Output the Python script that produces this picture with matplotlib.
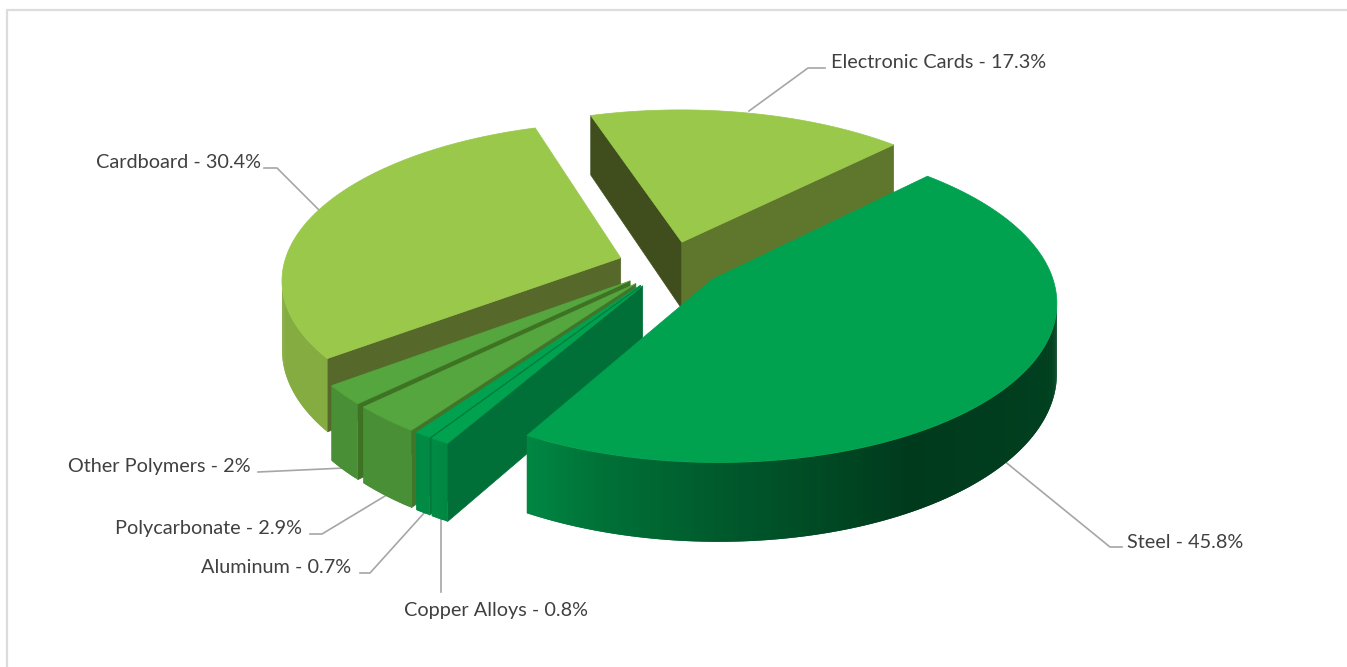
import numpy as np
import matplotlib
matplotlib.use("Agg")
import matplotlib.pyplot as plt

plt.rcParams['font.family'] = ['Lato', 'DejaVu Sans']

# clockwise from the Steel slice
names = ["Steel", "Copper Alloys", "Aluminum", "Polycarbonate", "Other Polymers", "Cardboard", "Electronic Cards"]
shares = [45.8, 0.8, 0.7, 2.9, 2, 30.4, 17.3]

C_TOP = ["#00A14F", "#00A14F", "#00A14F", "#55A63F", "#55A63F", "#99C84A", "#99C84A"]
C_START = ["#006F38", "#006F38", "#00793A", "#41752A", "#3F7324", "#56692A", "#3F4E1C"]
C_END = ["#006F38", "#006F38", "#00793A", "#41752A", "#3F7324", "#56692A", "#5E772D"]
DRAW_ORDER = [6, 5, 4, 3, 2, 1, 0]

# pie geometry, in pixels of the output
START = 44.6
CX, CY = 670, 265
R = 337
EXPLODE = 52
TILT = 0.46
PERSP = 0.13
DEPTH = 68
C_TEXT = "#404040"
C_LEAD = "#A6A6A6"
C_FRAME = "#DCDCDC"

# text anchor and leader path for each label
label_pos = [(1127, 542.5), (404, 610.5), (201, 567.5), (115, 528.5), (68, 466.5), (96, 162), (831, 62)]
leader_pos = [
    [(1003, 460), (1110, 547), (1122, 547)],
    [(441, 518), (441, 592)],
    [(425, 512), (370, 573), (360, 573)],
    [(390, 493), (322, 534), (310, 534)],
    [(345, 468), (258, 472)],
    [(319, 210), (277, 168), (264, 168)],
    [(749, 111), (808, 68), (825, 68)],
]


def project(gx, gy, gz=0.0):
    s = 1 / (1 + PERSP * gy / R)
    return CX + gx * s, CY - (gy * TILT + gz) * s


def area(pts):
    x = np.array([p[0] for p in pts])
    y = np.array([p[1] for p in pts])
    return np.sum(x * np.roll(y, -1) - np.roll(x, -1) * y)


def shade(theta):
    # lighting of the outer wall against the clockwise angle from north
    return np.interp(theta % 360, [0, 90, 150, 180, 197, 211, 240, 360],
                     [0.8, 0.42, 0.36, 0.56, 0.70, 0.86, 0.86, 0.86])


def scaled(col, f):
    rgb = np.array(matplotlib.colors.to_rgb(col))
    return tuple(rgb * f)


def poly(ax, pts, col, z, lw=0.5):
    xs, ys = zip(*pts)
    ax.fill(xs, ys, facecolor=col, edgecolor=col if lw else 'none', linewidth=lw, zorder=z)


fig = plt.figure(figsize=(13.47, 6.67), dpi=100)
ax = fig.add_axes([0, 0, 1, 1])
ax.set_xlim(0, 1347)
ax.set_ylim(667, 0)
ax.axis('off')

# chart frame, only left and top show in the crop
ax.plot([7, 7, 1347], [667, 10, 10], color=C_FRAME, lw=1.6, zorder=1)

spans = np.array(shares) / sum(shares) * 360
starts = START + np.concatenate([[0], np.cumsum(spans)[:-1]])

z = 2
for i in DRAW_ORDER:
    a, b = starts[i], starts[i] + spans[i]
    mid = np.radians((a + b) / 2)
    ox, oy = EXPLODE * np.sin(mid), EXPLODE * np.cos(mid)

    def pt(theta, gz=0.0, r=R):
        t = np.radians(theta)
        return project(ox + r * np.sin(t), oy + r * np.cos(t), gz)

    apex_t, apex_b = pt(a, 0, 0), pt(a, -DEPTH, 0)

    # radial walls, only those turned to the viewer
    wall = [apex_t, pt(a), pt(a, -DEPTH), apex_b]
    if area(wall) < 0:
        poly(ax, wall, C_START[i], z)
    wall = [apex_t, pt(b), pt(b, -DEPTH), apex_b]
    if area(wall) > 0:
        poly(ax, wall, C_END[i], z)

    # outer wall in strips for the gradient, each one overlaps the next
    arc = np.linspace(a, b, max(int(spans[i] * 2), 3))
    for k in range(len(arc) - 1):
        t0, t1 = arc[k], arc[min(k + 2, len(arc) - 1)]
        strip = [pt(t0), pt(t1), pt(t1, -DEPTH), pt(t0, -DEPTH)]
        if area(strip) < 0:
            poly(ax, strip, scaled(C_TOP[i], shade(arc[k])), z, lw=0)

    # top face
    top = [apex_t] + [pt(t) for t in arc]
    poly(ax, top, C_TOP[i], z + 0.5)
    z += 1

for name, val, (tx, ty), path in zip(names, shares, label_pos, leader_pos):
    ax.text(tx, ty, f"{name} - {val:g}%", color=C_TEXT, fontsize=14.3, ha='left', va='center', zorder=30)
    xs, ys = zip(*path)
    ax.plot(xs, ys, color=C_LEAD, lw=1.2, zorder=1.5)

fig.savefig("out.png", dpi=100)
